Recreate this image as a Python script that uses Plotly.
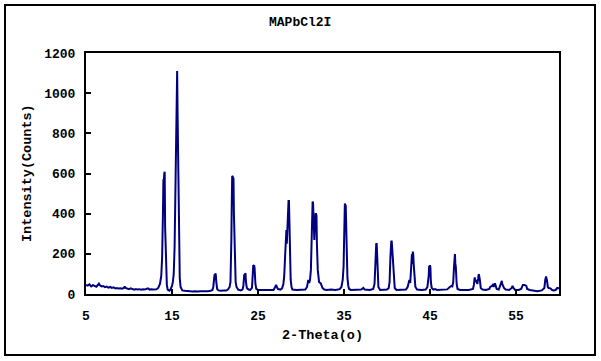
import plotly.graph_objects as go

title_text = "MAPbCl2I"
x_title = "2-Theta(o)"
y_title = "Intensity(Counts)"
x_ticks = [5, 15, 25, 35, 45, 55]
y_ticks = [0, 200, 400, 600, 800, 1000, 1200]

two_theta = [
    5.0, 5.2, 5.4, 5.6, 5.8, 6.0, 6.2, 6.4, 6.5, 6.6, 6.8, 7.0, 7.2, 7.4, 7.6, 7.8,
    8.0, 8.2, 8.4, 8.6, 8.8, 9.0, 9.2, 9.4, 9.5, 9.6, 9.8, 10.0, 10.2, 10.4, 10.6,
    10.8, 11.0, 11.2, 11.4, 11.6, 11.8, 12.0, 12.2, 12.4, 12.6, 12.8, 13.0, 13.2,
    13.4, 13.6, 13.75, 13.85, 13.95, 14.0, 14.05, 14.1, 14.15, 14.2, 14.3, 14.4,
    14.5, 14.6, 14.7, 14.8, 14.9, 15.0, 15.1, 15.2, 15.3, 15.4, 15.45, 15.5, 15.55,
    15.6, 15.65, 15.7, 15.75, 15.8, 15.9, 16.0, 16.1, 16.2, 16.5, 16.8, 17.1, 17.4,
    17.7, 18.0, 18.3, 18.6, 18.9, 19.2, 19.5, 19.7, 19.8, 19.9, 19.95, 20.0, 20.05,
    20.1, 20.15, 20.25, 20.4, 20.7, 21.0, 21.3, 21.5, 21.7, 21.8, 21.85, 21.9, 21.95,
    22.0, 22.05, 22.1, 22.15, 22.2, 22.3, 22.4, 22.5, 22.7, 23.0, 23.2, 23.3, 23.4,
    23.45, 23.5, 23.55, 23.6, 23.7, 23.9, 24.1, 24.3, 24.4, 24.45, 24.5, 24.55, 24.6,
    24.7, 24.8, 25.0, 25.5, 26.0, 26.4, 26.8, 27.0, 27.1, 27.2, 27.3, 27.6, 27.8,
    27.95, 28.05, 28.15, 28.25, 28.3, 28.35, 28.45, 28.5, 28.55, 28.6, 28.65, 28.7,
    28.8, 28.9, 29.0, 29.5, 30.0, 30.5, 30.7, 30.85, 30.95, 31.05, 31.15, 31.25,
    31.3, 31.35, 31.4, 31.45, 31.5, 31.55, 31.6, 31.65, 31.7, 31.75, 31.8, 31.85,
    31.95, 32.1, 32.3, 32.5, 32.7, 33.0, 33.5, 34.0, 34.5, 34.7, 34.85, 34.95, 35.0,
    35.05, 35.1, 35.15, 35.2, 35.25, 35.3, 35.4, 35.5, 35.6, 35.8, 36.5, 37.0, 37.25,
    37.4, 38.0, 38.4, 38.55, 38.65, 38.7, 38.75, 38.8, 38.85, 38.9, 39.0, 39.2, 39.6,
    40.0, 40.2, 40.3, 40.4, 40.45, 40.5, 40.55, 40.6, 40.65, 40.7, 40.8, 40.9, 41.1,
    41.8, 42.2, 42.4, 42.6, 42.7, 42.75, 42.85, 42.9, 42.95, 43.0, 43.05, 43.1, 43.2,
    43.3, 43.5, 44.0, 44.5, 44.7, 44.85, 44.9, 44.95, 45.0, 45.05, 45.1, 45.2, 45.4,
    45.6, 45.8, 46.5, 47.0, 47.3, 47.5, 47.6, 47.7, 47.8, 47.85, 47.9, 47.95, 48.0,
    48.1, 48.2, 48.5, 49.0, 49.5, 50.0, 50.1, 50.2, 50.25, 50.3, 50.35, 50.45, 50.5,
    50.6, 50.65, 50.7, 50.8, 50.9, 51.1, 51.5, 51.9, 52.0, 52.2, 52.3, 52.4, 52.55,
    52.65, 52.75, 53.0, 53.2, 53.35, 53.4, 53.5, 53.6, 53.8, 54.2, 54.5, 54.6, 54.7,
    54.9, 55.3, 55.6, 55.8, 56.0, 56.2, 56.3, 56.6, 57.0, 57.5, 58.0, 58.3, 58.4,
    58.5, 58.55, 58.6, 58.7, 58.8, 59.0, 59.2, 59.4, 59.6, 59.8, 60.0,
]

counts = [
    45, 42, 48, 38, 44, 40, 36, 46, 52, 44, 38, 40, 34, 37, 32, 35,
    30, 33, 28, 30, 27, 28, 26, 30, 38, 30, 26, 24, 28, 25, 22,
    25, 22, 24, 21, 23, 22, 25, 28, 22, 24, 22, 24, 23,
    30, 50, 90, 180, 405, 571, 560, 600, 609, 335, 120, 45,
    22, 18, 16, 20, 28, 40, 60, 100, 230, 500, 654, 900, 1107,
    1110, 896, 700, 400, 219, 80, 35, 20, 18, 16, 14, 15, 13,
    14, 12, 14, 13, 15, 14, 16, 20, 35, 80, 98, 85, 103,
    92, 60, 25, 18, 16, 18, 17, 22, 35, 60, 120, 265, 450,
    588, 585, 580, 575, 400, 136, 60, 35, 22, 18, 22, 40, 98,
    85, 103, 100, 60, 30, 22, 20, 30, 90, 144, 140, 144, 130,
    50, 25, 20, 19, 20, 18, 20, 35, 45, 35, 25, 22, 28,
    50, 90, 186, 310, 319, 250, 380, 463, 463, 463, 300, 165,
    70, 35, 22, 20, 20, 22, 35, 70, 55, 70, 120, 300,
    460, 460, 455, 380, 280, 269, 320, 390, 398, 398, 390, 250,
    120, 60, 53, 30, 22, 20, 22, 20, 24, 35, 70, 136, 260,
    380, 451, 440, 440, 300, 165, 80, 40, 25, 20, 20, 22, 30,
    22, 20, 25, 50, 120, 200, 252, 250, 200, 80, 35, 20, 20,
    22, 30, 60, 186, 230, 265, 262, 230, 190, 165, 60, 30, 20,
    20, 22, 35, 70, 55, 87, 120, 199, 150, 211, 200, 150, 70,
    35, 22, 20, 22, 35, 90, 140, 125, 144, 130, 60, 30, 22,
    25, 20, 22, 23, 35, 40, 38, 60, 140, 199, 199, 150, 136,
    50, 25, 20, 20, 20, 25, 45, 83, 75, 60, 70, 55, 50,
    75, 98, 95, 70, 30, 22, 20, 25, 35, 40, 45, 35, 53,
    40, 25, 22, 45, 65, 50, 40, 30, 22, 20, 30, 40, 30,
    20, 20, 25, 45, 45, 40, 25, 20, 16, 14, 18, 30, 70,
    87, 75, 70, 35, 30, 28, 20, 18, 20, 30, 28,
]

FONT = "Liberation Mono"

fig = go.Figure()
fig.add_trace(go.Scatter(
    x=two_theta, y=counts, mode="lines",
    line=dict(color="#000080", width=2),
    showlegend=False, hoverinfo="skip",
))

axis_common = dict(
    showline=True, linecolor="black", linewidth=2, mirror=True,
    ticks="inside", ticklen=5, tickwidth=2, tickcolor="black",
    showgrid=False, zeroline=False,
    tickfont=dict(family=FONT, size=13, color="black", weight="bold"),
)

fig.update_layout(
    width=601, height=361,
    margin=dict(l=86, r=42, t=53, b=67),
    paper_bgcolor="white", plot_bgcolor="white",
    xaxis=dict(range=[5, 60], tickvals=x_ticks, ticklabelstandoff=8, **axis_common),
    yaxis=dict(range=[0, 1200], tickvals=y_ticks, ticklabelstandoff=6, **axis_common),
    annotations=[
        dict(text=title_text, xref="paper", yref="paper", x=(300 - 86) / 473, y=(294 - 22) / 241,
             showarrow=False, xanchor="center", yanchor="middle",
             font=dict(family=FONT, size=13, color="black", weight="bold")),
        dict(text=x_title, xref="paper", yref="paper", x=(322 - 86) / 473, y=(294 - 335) / 241,
             showarrow=False, xanchor="center", yanchor="middle",
             font=dict(family=FONT, size=13.5, color="black", weight="bold")),
        dict(text=y_title, xref="paper", yref="paper", x=(27 - 86) / 473, y=(294 - 173) / 241,
             showarrow=False, xanchor="center", yanchor="middle", textangle=-90,
             font=dict(family=FONT, size=13.5, color="black", weight="bold")),
    ],
    shapes=[
        dict(type="rect", xref="paper", yref="paper",
             x0=(5 - 86) / 473, x1=(595 - 86) / 473,
             y0=(294 - 355) / 241, y1=(294 - 5) / 241,
             line=dict(color="black", width=2), fillcolor="rgba(0,0,0,0)", layer="below"),
    ],
)

fig.write_html(
    "out.html",
    config={"displayModeBar": False},
    post_script="document.body.style.margin='0';document.body.style.padding='0';",
)
